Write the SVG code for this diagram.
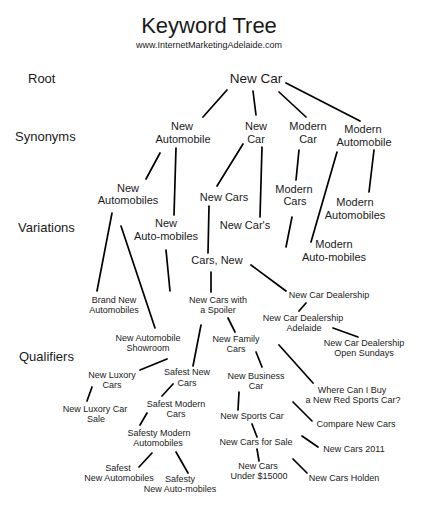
<svg xmlns="http://www.w3.org/2000/svg" width="427" height="512" viewBox="0 0 427 512">
<style>
text{font-family:"Liberation Sans",Arial,sans-serif;fill:#1a1a1a;text-anchor:middle}
.title{font-size:22px}
.url{font-size:9px}
.lvl{font-size:13px;text-anchor:start}
.l1{font-size:13.5px}
.l2{font-size:11px}
.l3{font-size:9px}
#connectors line{stroke:#000;stroke-width:1.7;stroke-linecap:round}
</style>
<rect width="427" height="512" fill="#fff"/>
<g id="header">
<text class="title" x="209" y="33">Keyword Tree</text>
<text class="url" x="209" y="48">www.InternetMarketingAdelaide.com</text>
</g>
<g id="levels">
<text class="lvl" x="28" y="83">Root</text>
<text class="lvl" x="15" y="141">Synonyms</text>
<text class="lvl" x="18" y="232">Variations</text>
<text class="lvl" x="19" y="361">Qualifiers</text>
</g>
<g id="connectors">
<line x1="227" y1="90" x2="203" y2="117"/>
<line x1="253" y1="91" x2="256" y2="115"/>
<line x1="279" y1="92" x2="306" y2="117"/>
<line x1="286" y1="83" x2="360" y2="121"/>
<line x1="160" y1="153" x2="146" y2="179"/>
<line x1="176" y1="148" x2="174" y2="215"/>
<line x1="243" y1="144" x2="217" y2="186"/>
<line x1="262" y1="147" x2="260" y2="217"/>
<line x1="299" y1="150" x2="296" y2="180"/>
<line x1="337" y1="152" x2="311" y2="242"/>
<line x1="374" y1="150" x2="369" y2="192"/>
<line x1="112" y1="213" x2="97" y2="291"/>
<line x1="121" y1="226" x2="155" y2="328"/>
<line x1="166" y1="250" x2="170" y2="291"/>
<line x1="209" y1="206" x2="208" y2="253"/>
<line x1="292" y1="217" x2="286" y2="247"/>
<line x1="211" y1="272" x2="211" y2="292"/>
<line x1="251" y1="265" x2="286" y2="291"/>
<line x1="306" y1="303" x2="299" y2="311"/>
<line x1="333" y1="328" x2="358" y2="337"/>
<line x1="228" y1="318" x2="235" y2="332"/>
<line x1="201" y1="325" x2="193" y2="366"/>
<line x1="256" y1="352" x2="262" y2="367"/>
<line x1="279" y1="345" x2="313" y2="383"/>
<line x1="167" y1="359" x2="140" y2="370"/>
<line x1="92" y1="387" x2="87" y2="401"/>
<line x1="173" y1="384" x2="162" y2="396"/>
<line x1="147" y1="413" x2="140" y2="425"/>
<line x1="152" y1="453" x2="139" y2="467"/>
<line x1="176" y1="452" x2="188" y2="473"/>
<line x1="239" y1="392" x2="238" y2="410"/>
<line x1="252" y1="424" x2="257" y2="437"/>
<line x1="257" y1="449" x2="259" y2="461"/>
<line x1="293" y1="402" x2="312" y2="421"/>
<line x1="302" y1="436" x2="318" y2="447"/>
<line x1="293" y1="459" x2="307" y2="473"/>
</g>
<g id="n-root"><text class="l1" x="256" y="83">New Car</text></g>
<g id="n-new-automobile"><text class="l2" x="182" y="130">New<tspan x="183" y="143">Automobile</tspan></text></g>
<g id="n-new-car"><text class="l2" x="256" y="130">New<tspan x="256" y="143">Car</tspan></text></g>
<g id="n-modern-car"><text class="l2" x="308" y="130">Modern<tspan x="308" y="143">Car</tspan></text></g>
<g id="n-modern-automobile"><text class="l2" x="363" y="133">Modern<tspan x="364" y="146">Automobile</tspan></text></g>
<g id="n-new-automobiles"><text class="l2" x="128" y="192">New<tspan x="128" y="204">Automobiles</tspan></text></g>
<g id="n-new-cars"><text class="l2" x="224" y="201">New Cars</text></g>
<g id="n-modern-cars"><text class="l2" x="294" y="193">Modern<tspan x="295" y="205">Cars</tspan></text></g>
<g id="n-modern-automobiles"><text class="l2" x="355" y="206">Modern<tspan x="355" y="219">Automobiles</tspan></text></g>
<g id="n-new-auto-mobiles"><text class="l2" x="166" y="227">New<tspan x="166" y="240">Auto-mobiles</tspan></text></g>
<g id="n-new-cars-apos"><text class="l2" x="245" y="229">New Car's</text></g>
<g id="n-modern-auto-mobiles"><text class="l2" x="334" y="248">Modern<tspan x="334" y="261">Auto-mobiles</tspan></text></g>
<g id="n-cars-new"><text class="l2" x="217" y="264">Cars, New</text></g>
<g id="n-brand-new-automobiles"><text class="l3" x="114" y="303">Brand New<tspan x="114" y="313">Automobiles</tspan></text></g>
<g id="n-new-cars-spoiler"><text class="l3" x="218" y="303">New Cars with<tspan x="218" y="313">a Spoiler</tspan></text></g>
<g id="n-new-car-dealership"><text class="l3" x="329" y="298">New Car Dealership</text></g>
<g id="n-ncd-adelaide"><text class="l3" x="303" y="321">New Car Dealership<tspan x="304" y="331">Adelaide</tspan></text></g>
<g id="n-ncd-open-sundays"><text class="l3" x="364" y="346">New Car Dealership<tspan x="364" y="356">Open Sundays</tspan></text></g>
<g id="n-new-automobile-showroom"><text class="l3" x="148" y="341">New Automobile<tspan x="148" y="351">Showroom</tspan></text></g>
<g id="n-new-family-cars"><text class="l3" x="236" y="342">New Family<tspan x="236" y="352">Cars</tspan></text></g>
<g id="n-new-luxory-cars"><text class="l3" x="112" y="378">New Luxory<tspan x="112" y="388">Cars</tspan></text></g>
<g id="n-safest-new-cars"><text class="l3" x="187" y="375">Safest New<tspan x="187" y="386">Cars</tspan></text></g>
<g id="n-new-business-car"><text class="l3" x="256" y="379">New Business<tspan x="256" y="389">Car</tspan></text></g>
<g id="n-where-can-i-buy"><text class="l3" x="352" y="393">Where Can I Buy<tspan x="353" y="403">a New Red Sports Car?</tspan></text></g>
<g id="n-new-luxory-car-sale"><text class="l3" x="95" y="412">New Luxory Car<tspan x="96" y="422">Sale</tspan></text></g>
<g id="n-safest-modern-cars"><text class="l3" x="176" y="407">Safest Modern<tspan x="176" y="417">Cars</tspan></text></g>
<g id="n-safesty-modern-automobiles"><text class="l3" x="159" y="436">Safesty Modern<tspan x="158" y="446">Automobiles</tspan></text></g>
<g id="n-safest-new-automobiles"><text class="l3" x="118" y="471">Safest<tspan x="119" y="481">New Automobiles</tspan></text></g>
<g id="n-safesty-new-auto-mobiles"><text class="l3" x="180" y="482">Safesty<tspan x="180" y="492">New Auto-mobiles</tspan></text></g>
<g id="n-new-sports-car"><text class="l3" x="252" y="419">New Sports Car</text></g>
<g id="n-new-cars-for-sale"><text class="l3" x="256" y="445">New Cars for Sale</text></g>
<g id="n-new-cars-under"><text class="l3" x="258" y="469">New Cars<tspan x="259" y="479">Under $15000</tspan></text></g>
<g id="n-compare-new-cars"><text class="l3" x="356" y="427">Compare New Cars</text></g>
<g id="n-new-cars-2011"><text class="l3" x="354" y="452">New Cars 2011</text></g>
<g id="n-new-cars-holden"><text class="l3" x="344" y="481">New Cars Holden</text></g>
</svg>
